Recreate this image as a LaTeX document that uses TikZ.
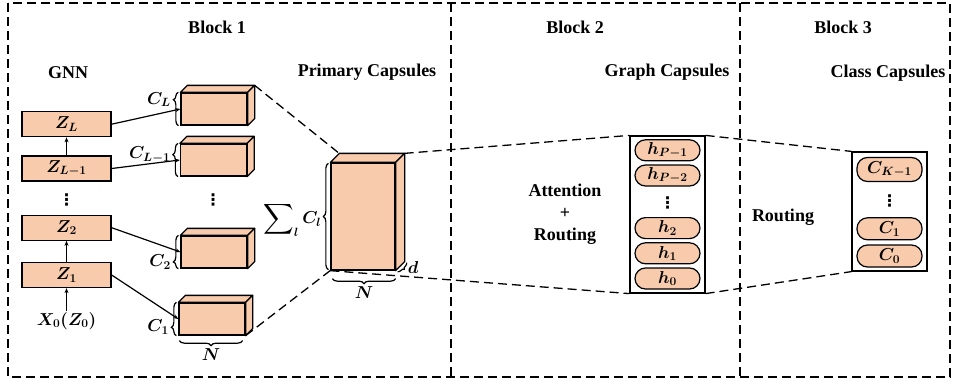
\documentclass[tikz,border=0pt]{standalone}
\usepackage{amsmath, amssymb}
\usepackage{graphicx}
\usepackage{fontspec}
\setmainfont{Liberation Serif}
\newfontfamily\dotsfont{DejaVu Sans}
\usepackage{xcolor}
\usepackage{tikz}
\usetikzlibrary{positioning, calc, arrows.meta, decorations.pathreplacing}

\definecolor{capfill}{RGB}{248,203,173}

% top and side face of a capsule block
\newcommand{\cubefaces}[2]{%
  \draw[face] (#1.north west) -- ++(#2,-#2) -- ($(#1.north east)+(#2,-#2)$) -- (#1.north east) -- cycle;
  \draw[face] (#1.north east) -- ++(#2,-#2) -- ($(#1.south east)+(#2,-#2)$) -- (#1.south east) -- cycle;}
\newcommand{\bigsum}{\mathop{\vcenter{\hbox{\scalebox{1.25}{$\displaystyle\sum$}}}}\nolimits}

\begin{document}
\begin{tikzpicture}[
    x=1pt, y=-1pt,
    font=\fontsize{18}{22}\selectfont\bfseries,
    mathlbl/.style={font=\fontsize{17}{20}\selectfont\boldmath, inner sep=1pt},
    dots/.style={font=\dotsfont\fontsize{16}{18}\selectfont\bfseries, inner sep=0pt},
    layer/.style={draw, line width=1.3pt, fill=capfill, minimum width=89pt, minimum height=25pt, inner sep=0pt, font=\fontsize{17}{20}\selectfont\boldmath},
    front/.style={draw, line width=1.3pt, fill=capfill, minimum width=66pt, minimum height=32pt, inner sep=0pt},
    face/.style={draw, line width=1.3pt, fill=capfill, line join=round},
    pill/.style={draw, line width=1.2pt, fill=capfill, rounded corners=10.5pt, minimum width=65pt, minimum height=21pt, inner sep=0pt, font=\fontsize{17}{20}\selectfont\boldmath},
    group/.style={draw, line width=1.2pt, minimum width=75pt, inner sep=0pt},
    blockline/.style={line width=1.5pt, dash pattern=on 9pt off 5pt},
    zoomline/.style={line width=1.3pt, dash pattern=on 9pt off 5pt},
    link/.style={line width=1.2pt, -{Stealth[length=5pt, width=4pt]}},
    capbrace/.style={decorate, decoration={brace, amplitude=5pt}, line width=1.2pt}
]
\useasboundingbox (0,0) rectangle (956,383);

% Blocks
\draw[blockline] (8,3) rectangle (950,377);
\draw[blockline] (451,3) -- (451,377);
\draw[blockline] (740,3) -- (740,377);
\node (b1title) at (217,27) {Block 1};
\node (b2title) at (575,27) {Block 2};
\node (b3title) at (843,27) {Block 3};

% GNN layers
\node (gnn) at (68,73) {GNN};
\node[layer] (z1) at (66.5,275) {$Z_1$};
\node[layer, above=21pt of z1] (z2) {$Z_2$};
\node[dots] (zdots) at (66.5,200) {⋮};
\node[layer] (zlm) at (66.5,168.5) {$Z_{L-1}$};
\node[layer, above=18pt of zlm] (zl) {$Z_L$};
\node[mathlbl] (x0) at (66.5,321) {$X_0(Z_0)$};

\draw[link] (x0) -- (z1);
\draw[link] (z1) -- (z2);
\draw[link] (zlm) -- (zl);

% Primary capsules per layer
\node (primtitle) at (367,72) {Primary Capsules};
\node[front] (cl) at (214,109) {};
\node[front] (clm) at (213.5,160) {};
\node[dots] (cdots) at (213,200) {⋮};
\node[front] (ctwo) at (214,252) {};
\node[front] (cone) at (212,319) {};

% zoom lines
\draw[zoomline] ($(cl.north east)+(7,-7)$) -- (340,154);
\draw[zoomline] (cone.south east) -- (331,270);

\cubefaces{cl}{7}
\cubefaces{clm}{7}
\cubefaces{ctwo}{7}
\cubefaces{cone}{7}

\draw[capbrace, decoration={aspect=0.78}] ($(cl.south west)+(-2,0)$) -- node[mathlbl, left=6pt, pos=0.78] (lcl) {$C_L$} ($(cl.north west)+(-2,0)$);
\draw[capbrace, decoration={aspect=0.66}] ($(clm.south west)+(-2,0)$) -- node[mathlbl, left=6pt, pos=0.66] (lclm) {$C_{L-1}$} ($(clm.north west)+(-2,0)$);
\draw[capbrace, decoration={aspect=0.2}] ($(ctwo.south west)+(-2,0)$) -- node[mathlbl, left=6pt, pos=0.2] (lctwo) {$C_2$} ($(ctwo.north west)+(-2,0)$);
\draw[capbrace, decoration={aspect=0.25}] ($(cone.south west)+(-2,0)$) -- node[mathlbl, left=6pt, pos=0.25] (lcone) {$C_1$} ($(cone.north west)+(-2,0)$);
\draw[capbrace] ($(cone.south east)+(-3,5)$) -- node[mathlbl, below=6pt] (ncone) {$N$} ($(cone.south west)+(1,5)$);

\draw[link] (zl.east) -- (cl.west);
\draw[link] (zlm.east) -- (clm.west);
\draw[link] (z2.east) -- (ctwo.west);
\draw[link] (z1.east) -- (cone.west);

% Stacked primary capsules
\node[front, minimum width=64pt, minimum height=107pt] (prim) at (363,216.5) {};
\node[group, minimum height=157pt] (gcaps) at (667.5,214.5) {};
\draw[zoomline] ($(prim.north east)+(9,-9)$) -- (gcaps.north west);
\draw[zoomline] (prim.south west) -- (gcaps.south west);
\cubefaces{prim}{9}
\draw[capbrace] ($(prim.south west)+(-2,-1)$) -- ($(prim.north west)+(-2,1)$);
\node[mathlbl, anchor=east] (lprim) at ($(prim.west)+(-8,3)$) {$\bigsum_{l} C_l$};
\draw[capbrace] ($(prim.south east)+(0,8)$) -- node[mathlbl, below=6pt] (nprim) {$N$} ($(prim.south west)+(2,8)$);
\draw[capbrace, decoration={amplitude=3pt}] ($(prim.south east)+(11,-8)$) -- node[mathlbl, right=4pt] (dprim) {$d$} ($(prim.south east)+(2,1)$);

% Graph capsules
\node (gtitle) at (667,72) {Graph Capsules};
\node (attn) [align=center] at (565,214) {Attention\\+\\Routing};
\node[pill] (h0) at (667.5,278.5) {$h_0$};
\node[pill, above=3pt of h0] (h1) {$h_1$};
\node[pill, above=3pt of h1] (h2) {$h_2$};
\node[dots] (hdots) at (667.5,203) {⋮};
\node[pill] (hp2) at (667.5,175.5) {$h_{P-2}$};
\node[pill, above=3pt of hp2] (hp1) {$h_{P-1}$};

% Class capsules
\node (ctitle) at (888,73) {Class Capsules};
\node (route) at (783,217) {Routing};
\node[group, minimum height=119pt] (ccaps) at (889.5,211.5) {};
\draw[zoomline] (gcaps.north east) -- (ccaps.north west);
\draw[zoomline] (gcaps.south east) -- (ccaps.south west);
\node[pill, minimum height=22pt] (k0) at (889.5,256) {$C_0$};
\node[pill, minimum height=22pt, above=4pt of k0] (k1) {$C_1$};
\node[dots] (kdots) at (889.5,201) {⋮};
\node[pill, minimum height=24pt] (kk) at (889.5,169.5) {$C_{K-1}$};

\end{tikzpicture}
\end{document}
